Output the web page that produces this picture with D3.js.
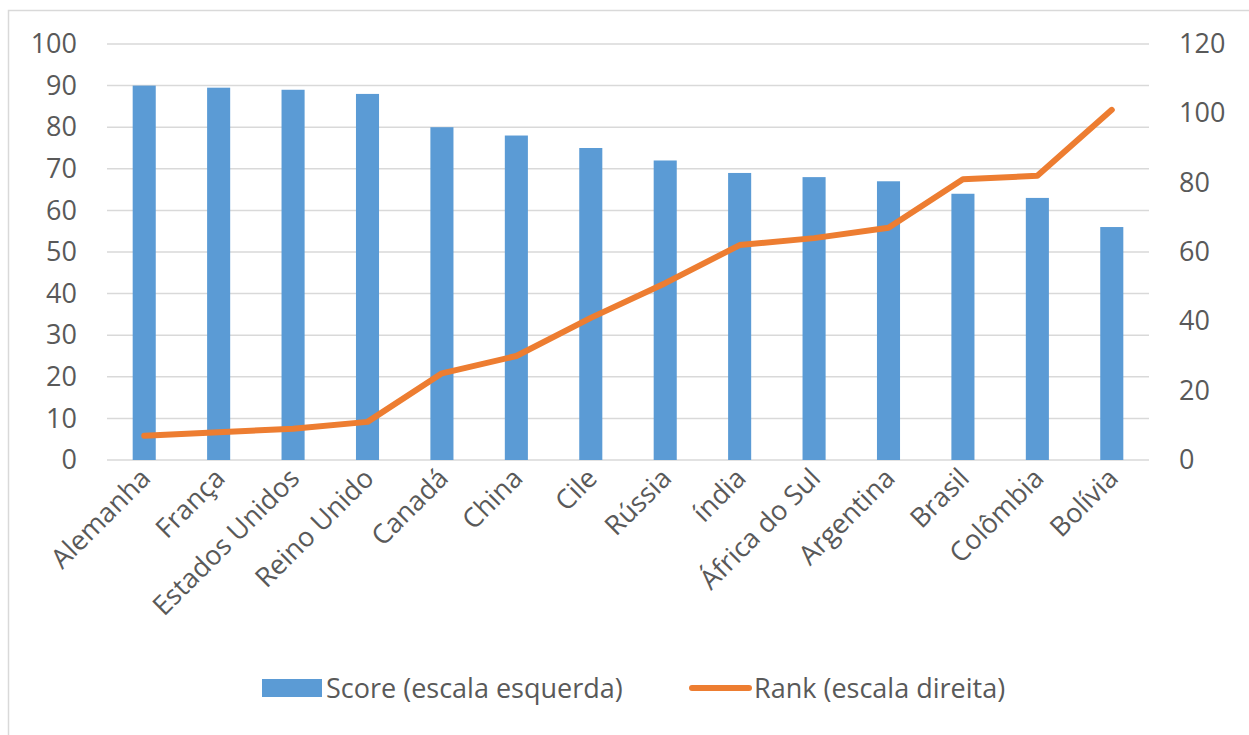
<!DOCTYPE html>
<html>
<head>
<meta charset="utf-8">
<script src="https://cdn.jsdelivr.net/npm/d3@7"></script>
<style>
	body { margin: 0; background: #fff; }
	svg text { font-family: "Open Sans", sans-serif; fill: #595959; }
</style>
</head>
<body>
<svg id="chart" width="1249" height="735"></svg>
<script>
var countries = ["Alemanha", "França", "Estados Unidos", "Reino Unido", "Canadá", "China", "Cile",
	"Rússia", "índia", "África do Sul", "Argentina", "Brasil", "Colômbia", "Bolívia"];
var scores = [90, 89.5, 89, 88, 80, 78, 75, 72, 69, 68, 67, 64, 63, 56];
var ranks = [7, 8, 9, 11, 25, 30, 41, 51, 62, 64, 67, 81, 82, 101];
var leftTicks = [0, 10, 20, 30, 40, 50, 60, 70, 80, 90, 100];
var rightTicks = [0, 20, 40, 60, 80, 100, 120];
var legendLabels = ["Score (escala esquerda)", "Rank (escala direita)"];

var blue = "#5b9bd5", orange = "#ed7d31";

var margin = {top: 44, right: 100, bottom: 275, left: 107},
	width = 1249 - margin.left - margin.right,
	height = 735 - margin.top - margin.bottom;

var svg = d3.select("#chart");

// chart frame
svg.append("rect")
	.attr("x", 8.5).attr("y", 10.5)
	.attr("width", 1260).attr("height", 740)
	.attr("fill", "none")
	.attr("stroke", "#d9d9d9")
	.attr("stroke-width", 1.5);

var g = svg.append("g")
	.attr("transform", "translate(" + margin.left + "," + margin.top + ")");

var x = d3.scaleBand().domain(countries).range([0, width]).paddingInner(0.69).paddingOuter(0.345);
var yL = d3.scaleLinear().domain([0, 100]).range([height, 0]);
var yR = d3.scaleLinear().domain([0, 120]).range([height, 0]);

// gridlines
g.append("g")
	.selectAll("line")
	.data(leftTicks)
	.enter().append("line")
	.attr("x1", 0).attr("x2", width)
	.attr("y1", function(d) { return yL(d); })
	.attr("y2", function(d) { return yL(d); })
	.attr("stroke", "#d9d9d9")
	.attr("stroke-width", 1.5);

// left axis
var axL = g.append("g")
	.call(d3.axisLeft(yL).tickValues(leftTicks).tickSize(0).tickPadding(30));
axL.select(".domain").remove();
axL.selectAll("text")
	.style("font-size", "27px")
	.attr("fill", "#595959");

// right axis
var axR = g.append("g")
	.attr("transform", "translate(" + width + ",0)")
	.call(d3.axisRight(yR).tickValues(rightTicks).tickSize(0).tickPadding(30));
axR.select(".domain").remove();
axR.selectAll("text")
	.style("font-size", "27px")
	.attr("fill", "#595959");

// bars
g.selectAll(".bar")
	.data(scores)
	.enter().append("rect")
	.attr("class", "bar")
	.attr("x", function(d, i) { return x(countries[i]); })
	.attr("y", function(d) { return yL(d); })
	.attr("width", x.bandwidth())
	.attr("height", function(d) { return height - yL(d); })
	.attr("fill", blue);

// rank line
var line = d3.line()
	.x(function(d, i) { return x(countries[i]) + x.bandwidth() / 2; })
	.y(function(d) { return yR(d); });

g.append("path")
	.datum(ranks)
	.attr("d", line)
	.attr("fill", "none")
	.attr("stroke", orange)
	.attr("stroke-width", 6)
	.attr("stroke-linejoin", "round")
	.attr("stroke-linecap", "round");

// category labels
g.selectAll(".cat")
	.data(countries)
	.enter().append("text")
	.attr("class", "cat")
	.attr("text-anchor", "end")
	.attr("transform", function(d) {
		return "translate(" + (x(d) + x.bandwidth() / 2 + 8) + "," + (height + 20) + ") rotate(-45)";
	})
	.style("font-size", "27px")
	.text(function(d) { return d; });

// legend
var leg = svg.append("g");
leg.append("rect")
	.attr("x", 262).attr("y", 679)
	.attr("width", 60).attr("height", 18)
	.attr("fill", blue);
leg.append("text")
	.attr("x", 326).attr("y", 698)
	.style("font-size", "27px")
	.text(legendLabels[0]);
leg.append("line")
	.attr("x1", 692).attr("x2", 749)
	.attr("y1", 688).attr("y2", 688)
	.attr("stroke", orange)
	.attr("stroke-width", 6)
	.attr("stroke-linecap", "round");
leg.append("text")
	.attr("x", 754).attr("y", 698)
	.style("font-size", "27px")
	.text(legendLabels[1]);
</script>
</body>
</html>
